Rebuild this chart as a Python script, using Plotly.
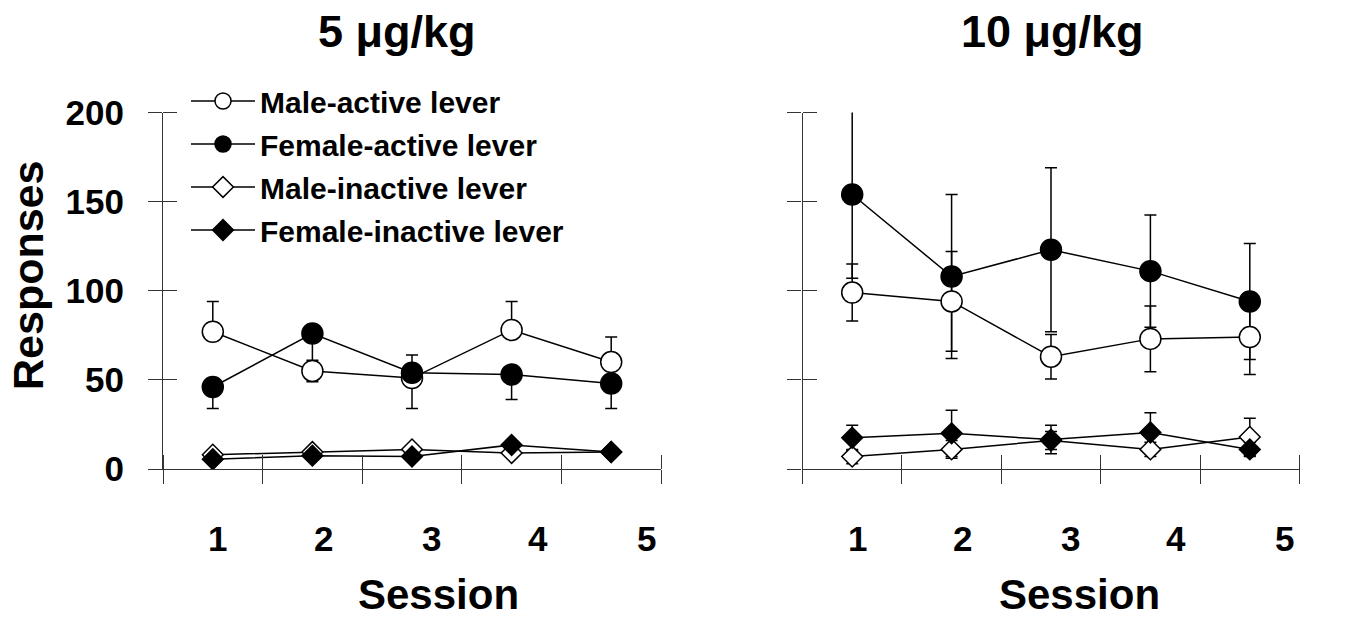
import plotly.graph_objects as go

sessions = [1, 2, 3, 4, 5]
session_labels = ["1", "2", "3", "4", "5"]
label_positions = [1.05, 2.11, 3.20, 4.26, 5.35]
boundary_ticks = [0.5, 1.5, 2.5, 3.5, 4.5, 5.5]
y_ticks = [0, 50, 100, 150, 200]

# 5 ug/kg panel
male_active_5 = [77, 55, 51, 78, 60]
male_active_5_plus = [17, 0, 0, 16, 14]
male_active_5_minus = [0, 6, 17, 0, 0]
female_active_5 = [46, 76, 54, 53, 48]
female_active_5_plus = [0, 0, 10, 0, 0]
female_active_5_minus = [12, 15, 0, 14, 14]
male_inactive_5 = [8, 9.5, 11, 9, 9.5]
female_inactive_5 = [5.5, 7.5, 7, 13.5, 9.5]

# 10 ug/kg panel
male_active_10 = [99, 94, 63, 73, 74]
male_active_10_err = [16, 28, 12.5, 18.5, 21]
female_active_10 = [154, 108, 123, 111, 94]
female_active_10_err = [47, 46, 46, 31.5, 32.5]
male_inactive_10 = [7, 11, 16, 11, 18]
male_inactive_10_err = [4, 5, 5, 4, 10.5]
female_inactive_10 = [17.5, 20, 16.5, 20.5, 11]
female_inactive_10_err = [7, 13, 8, 11, 4]

FONT = "Liberation Sans, Arial, sans-serif"
AX = "#333333"
W, H = 1347, 618


def px(x):
    return x / W


def py(y):
    return 1 - y / H


styles = {
    "Male-active lever": dict(symbol="circle", size=21, color="white"),
    "Female-active lever": dict(symbol="circle", size=21, color="black"),
    "Male-inactive lever": dict(symbol="diamond", size=16, color="white"),
    "Female-inactive lever": dict(symbol="diamond", size=16, color="black"),
}

fig = go.Figure()


def err_trace(y, plus, minus, xa, ya):
    fig.add_trace(go.Scatter(
        x=sessions, y=y, mode="markers", xaxis=xa, yaxis=ya,
        marker=dict(size=1, color="rgba(0,0,0,0)"),
        error_y=dict(type="data", symmetric=False, array=plus, arrayminus=minus,
                     color="black", thickness=1.5, width=6),
        showlegend=False, hoverinfo="skip"))


# error bars first (drawn beneath all markers)
err_trace(male_active_5, male_active_5_plus, male_active_5_minus, "x", "y")
err_trace(female_active_5, female_active_5_plus, female_active_5_minus, "x", "y")
err_trace(male_active_10, male_active_10_err, male_active_10_err, "x2", "y2")
err_trace(female_active_10, female_active_10_err, female_active_10_err, "x2", "y2")
err_trace(male_inactive_10, male_inactive_10_err, male_inactive_10_err, "x2", "y2")
err_trace(female_inactive_10, female_inactive_10_err, female_inactive_10_err, "x2", "y2")


def main_trace(name, y, xa, ya, legend):
    s = styles[name]
    fig.add_trace(go.Scatter(
        x=sessions, y=y, mode="lines+markers", name=name, xaxis=xa, yaxis=ya,
        line=dict(color="black", width=1.5),
        marker=dict(symbol=s["symbol"], size=s["size"], color=s["color"],
                    line=dict(color="black", width=1.5)),
        showlegend=legend, legendgroup=name))


main_trace("Male-active lever", male_active_5, "x", "y", True)
main_trace("Female-active lever", female_active_5, "x", "y", True)
main_trace("Male-inactive lever", male_inactive_5, "x", "y", True)
main_trace("Female-inactive lever", female_inactive_5, "x", "y", True)
main_trace("Male-active lever", male_active_10, "x2", "y2", False)
main_trace("Female-active lever", female_active_10, "x2", "y2", False)
main_trace("Male-inactive lever", male_inactive_10, "x2", "y2", False)
main_trace("Female-inactive lever", female_inactive_10, "x2", "y2", False)

XL = [px(163), px(661)]
XR = [px(802.5), px(1299.5)]
YD = [py(469), py(112.5)]
tickfont = dict(family=FONT, size=35, color="black", weight="bold")


def xaxis_cfg(domain, anchor):
    return dict(domain=domain, anchor=anchor, range=[0.5, 5.5], tickmode="array",
                tickvals=boundary_ticks, showticklabels=False, ticks="outside",
                ticklen=14, tickcolor=AX, tickwidth=1, showline=True, linecolor=AX,
                linewidth=1.2, showgrid=False, zeroline=False, automargin=False,
                layer="above traces",
                minor=dict(tickmode="array", tickvals=boundary_ticks, ticks="inside",
                           ticklen=14, tickcolor=AX, tickwidth=1, showgrid=False))


def yaxis_cfg(anchor, labels):
    return dict(domain=YD, anchor=anchor, range=[0, 200], tickmode="array",
                tickvals=y_ticks, showticklabels=labels, tickfont=tickfont,
                ticklabelstandoff=17, ticks="outside", ticklen=14, tickcolor=AX,
                tickwidth=1, showline=True, linecolor=AX, linewidth=1.2,
                showgrid=False, zeroline=False, automargin=False,
                layer="above traces",
                minor=dict(tickmode="array", tickvals=y_ticks, ticks="inside",
                           ticklen=14, tickcolor=AX, tickwidth=1, showgrid=False))


fig.update_layout(
    template="none",
    width=W, height=H,
    margin=dict(l=0, r=0, t=0, b=0),
    paper_bgcolor="white", plot_bgcolor="white",
    font=dict(family=FONT, color="black"),
    xaxis=xaxis_cfg(XL, "y"), xaxis2=xaxis_cfg(XR, "y2"),
    yaxis=yaxis_cfg("x", True), yaxis2=yaxis_cfg("x2", False),
    legend=dict(x=px(186), y=py(75), xanchor="left", yanchor="top",
                font=dict(family=FONT, size=30, color="black", weight="bold"),
                bgcolor="rgba(0,0,0,0)", borderwidth=0, tracegroupgap=1,
                itemwidth=64, traceorder="grouped"),
    showlegend=True,
)

# session tick labels (placed on the data x scale of each panel)
for xr in ("x", "x2"):
    for pos, lab in zip(label_positions, session_labels):
        fig.add_annotation(text=lab, x=pos, y=py(538), xref=xr, yref="paper",
                           showarrow=False, font=tickfont,
                           xanchor="center", yanchor="middle")

ann_font_big = dict(family=FONT, size=45, color="black", weight="bold")
ann_font_mid = dict(family=FONT, size=42, color="black", weight="bold")
fig.add_annotation(text="5 μg/kg", x=px(397), y=py(31), xref="paper", yref="paper",
                   showarrow=False, font=ann_font_big, xanchor="center", yanchor="middle")
fig.add_annotation(text="10 μg/kg", x=px(1052), y=py(31), xref="paper", yref="paper",
                   showarrow=False, font=ann_font_big, xanchor="center", yanchor="middle")
fig.add_annotation(text="Session", x=px(438), y=py(594), xref="paper", yref="paper",
                   showarrow=False, font=ann_font_mid, xanchor="center", yanchor="middle")
fig.add_annotation(text="Session", x=px(1079), y=py(594), xref="paper", yref="paper",
                   showarrow=False, font=ann_font_mid, xanchor="center", yanchor="middle")
fig.add_annotation(text="Responses", x=px(28), y=py(276), xref="paper", yref="paper",
                   showarrow=False, font=dict(family=FONT, size=43, color="black", weight="bold"),
                   textangle=-90, xanchor="center", yanchor="middle")

# remove the page's default body margin so the figure sits at the window origin
fig.write_html("out.html", config={"displayModeBar": False},
               post_script="document.body.style.margin='0';")
